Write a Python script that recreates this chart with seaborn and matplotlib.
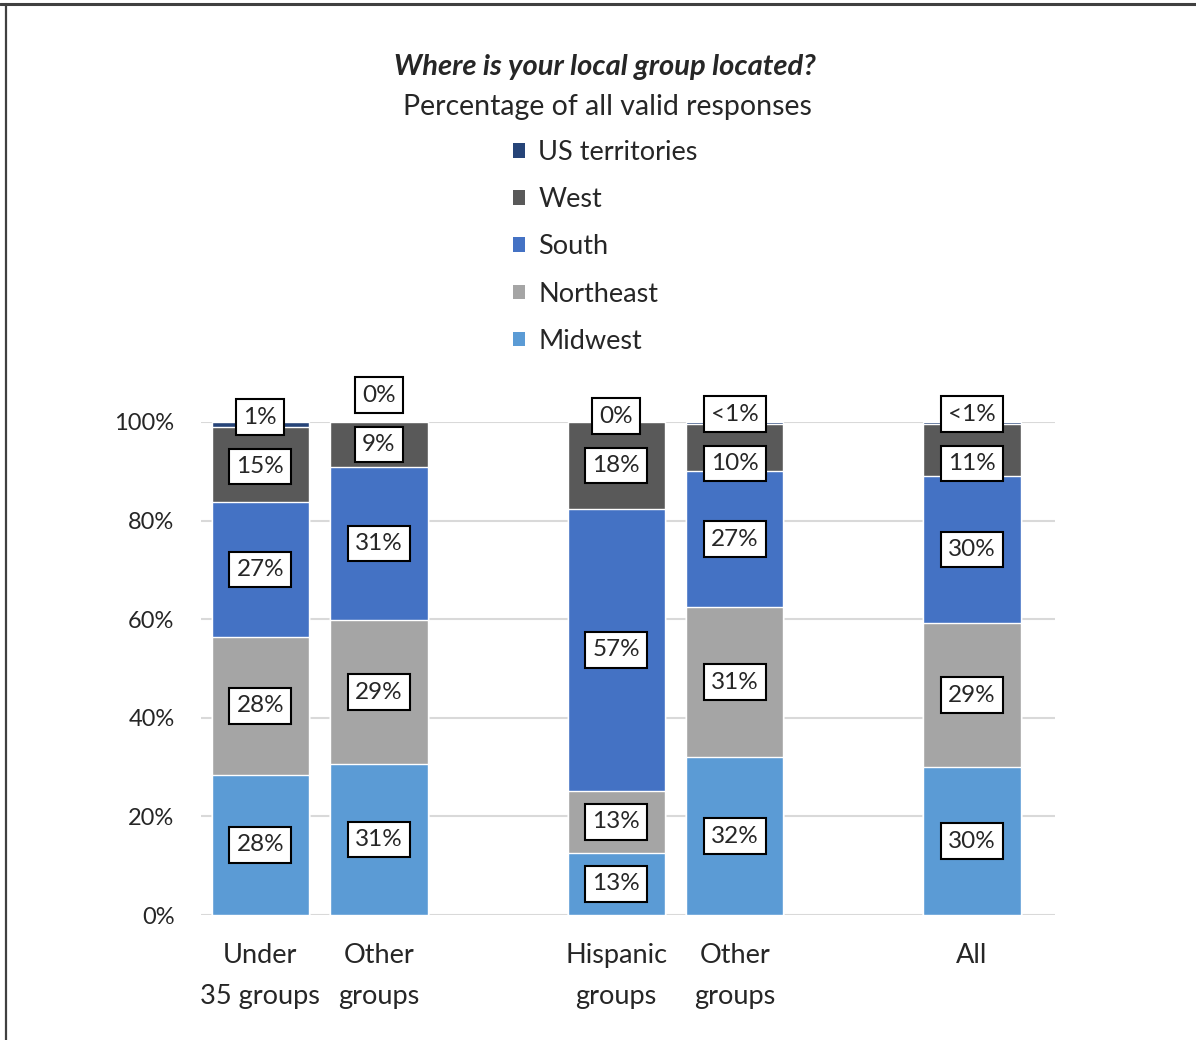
import numpy as np
import pandas as pd
import seaborn as sns
import matplotlib.pyplot as plt
from matplotlib.patches import Patch
from matplotlib.lines import Line2D

# ---------------- data ----------------
groups = ["Under\n35 groups", "Other\ngroups", "Hispanic\ngroups", "Other\ngroups", "All"]
group_pos = [0, 1, 3, 4, 6]
regions = ["Midwest", "Northeast", "South", "West", "US territories"]

midwest = [28.4, 30.6, 12.6, 32.0, 30.0]
northeast = [28.0, 29.2, 12.6, 30.5, 29.2]
south = [27.4, 31.1, 57.2, 27.5, 29.8]
west = [15.2, 9.1, 17.6, 9.6, 10.6]
us_territories = [1.0, 0.0, 0.0, 0.4, 0.4]

label_midwest = ["28%", "31%", "13%", "32%", "30%"]
label_northeast = ["28%", "29%", "13%", "31%", "29%"]
label_south = ["27%", "31%", "57%", "27%", "30%"]
label_west = ["15%", "9%", "18%", "10%", "11%"]
label_us = ["1%", "0%", "0%", "<1%", "<1%"]

colors = ["#5B9BD5", "#A5A5A5", "#4472C4", "#595959", "#264478"]

title = "Where is your local group located?"
subtitle = "Percentage of all valid responses"

# ---------------- style ----------------
sns.set_style("white")
plt.rcParams['font.family'] = ['Lato', 'DejaVu Sans']
FS = 19.5
FS_LAB = 17.5
FS_Y = 17

fig = plt.figure(figsize=(11.96, 10.4), dpi=100)
ax = fig.add_axes([201 / 1196, 1 - 915 / 1040, (1055 - 201) / 1196, (915 - 422) / 1040])

series = [midwest, northeast, south, west, us_territories]
cum = np.cumsum(np.array(series), axis=0)

# draw cumulative bars from top layer to bottom layer
for k in range(len(regions) - 1, -1, -1):
    df = pd.DataFrame({"pos": group_pos, "val": cum[k]})
    sns.barplot(data=df, x="pos", y="val", native_scale=True, color=colors[k],
                saturation=1, width=0.82, edgecolor="white", linewidth=1.0,
                ax=ax, zorder=2)

ax.set_xlim(-0.5, 6.7)
ax.set_ylim(0, 100)
ax.set_yticks([0, 20, 40, 60, 80, 100])
ax.set_yticklabels([f"{v}%" for v in [0, 20, 40, 60, 80, 100]], fontsize=FS_Y)
ax.set_xticks(group_pos)
ax.set_xticklabels(groups, fontsize=FS, linespacing=1.78)
ax.tick_params(axis="y", length=0, pad=19)
ax.tick_params(axis="x", length=0, pad=20.5)
ax.set_xlabel("")
ax.set_ylabel("")
for s in ax.spines.values():
    s.set_visible(False)
ax.yaxis.grid(True, color="#D9D9D9", lw=1.5)
ax.set_axisbelow(True)

# ---------------- data labels ----------------
box = dict(boxstyle="square,pad=0.3", fc="white", ec="black", lw=1.5)
labels = [label_midwest, label_northeast, label_south, label_west]
for i, x in enumerate(group_pos):
    bottom = 0.0
    ys = []
    for k in range(4):
        v = series[k][i]
        ys.append(bottom + v / 2)
        bottom += v
    west_top = bottom
    if us_territories[i] > 0:
        ys[3] = min(ys[3], west_top - 8.0)
    us_y = max(ys[3] + 10.0, west_top + us_territories[i])
    for k in range(4):
        ax.text(x, ys[k], labels[k][i], ha="center", va="center", fontsize=FS_LAB,
                bbox=box, zorder=5, clip_on=False)
    ax.text(x, us_y, label_us[i], ha="center", va="center", fontsize=FS_LAB,
            bbox=box, zorder=5, clip_on=False)

# ---------------- titles ----------------
fig.text(605 / 1196, 1 - 67 / 1040, title, ha="center", va="center",
         fontsize=21, fontweight="bold", fontstyle="italic")
fig.text(607 / 1196, 1 - 107 / 1040, subtitle, ha="center", va="center", fontsize=20.5)

# ---------------- legend ----------------
handles = [Patch(facecolor=colors[k], edgecolor="none") for k in range(4, -1, -1)]
leg_labels = [regions[k] for k in range(4, -1, -1)]
fig.legend(handles, leg_labels, loc="upper left",
           bbox_to_anchor=(513 / 1196, 1 - 140 / 1040), frameon=False,
           fontsize=FS, handlelength=0.45, handleheight=0.45, handletextpad=0.48,
           labelspacing=0.82, borderpad=0, borderaxespad=0)

# ---------------- frame lines ----------------
fig.add_artist(Line2D([0, 1], [1 - 4 / 1040, 1 - 4 / 1040], color="#404040", lw=2.2,
                      transform=fig.transFigure))
fig.add_artist(Line2D([6 / 1196, 6 / 1196], [0, 1 - 4 / 1040], color="#404040", lw=1.6,
                      transform=fig.transFigure))

fig.savefig("out.png", dpi=100)
